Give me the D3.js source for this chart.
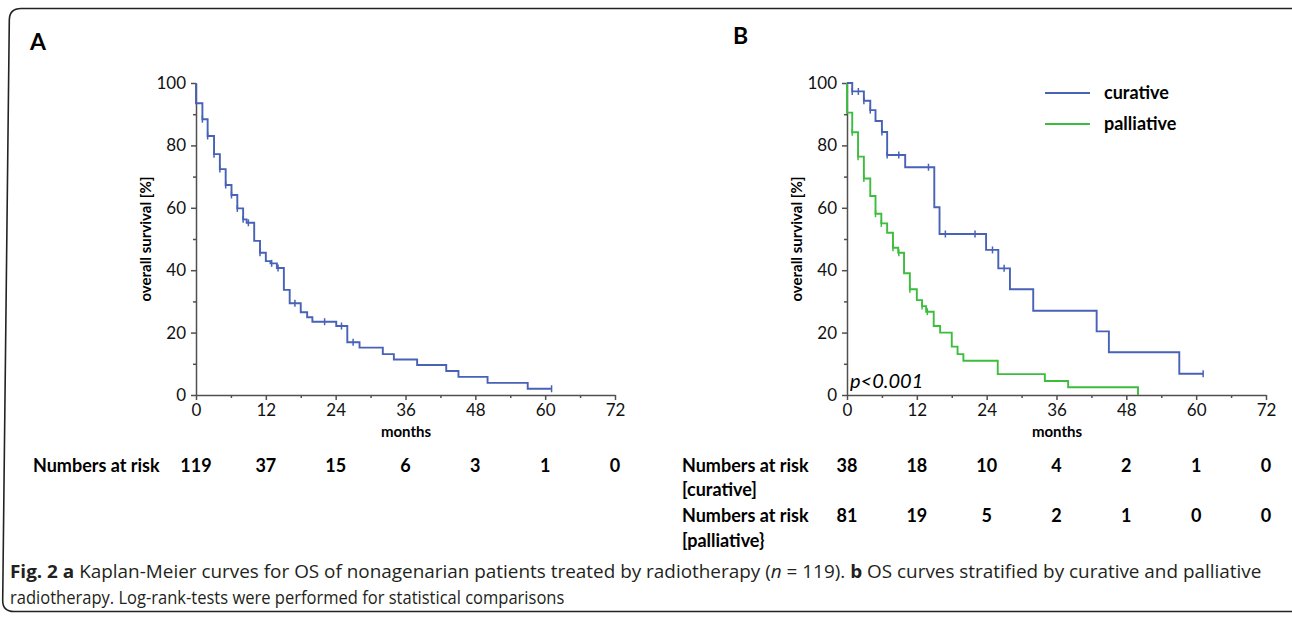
<!DOCTYPE html>
<html>
<head>
<meta charset="utf-8">
<script src="https://cdn.jsdelivr.net/npm/d3@7"></script>
<style>
  body { margin: 0; background: #fff; }
  svg { display: block; }
</style>
</head>
<body>
<div id="screen"></div>
<script>
var width = 1292;
var height = 618;

// axis ticks
var monthTicks = [0, 12, 24, 36, 48, 60, 72];
var monthMinor = [6, 18, 30, 42, 54, 66];
var survivalTicks = [0, 20, 40, 60, 80, 100];
var survivalMinor = [10, 30, 50, 70, 90];

// panel A : all patients (step start times and survival after the step)
var allTime = [0, 0, 1.1, 2.0, 3.1, 4.1, 5.1, 6.1, 7.1, 8.1, 8.7, 10.0, 11.0, 12.0, 12.8, 13.9, 15.1, 16.1, 18.0, 19.1, 20.0, 24.1, 26.0, 28.1, 32.1, 34.0, 38.0, 43.0, 45.1, 50.1, 57.0, 61.1];
var allSurv = [100, 93.5, 88.4, 83.0, 77.2, 72.4, 67.3, 64.1, 59.8, 56.3, 55.2, 49.4, 45.6, 42.9, 42.2, 40.7, 33.7, 29.4, 26.5, 24.9, 23.5, 22.1, 16.9, 15.2, 13.1, 11.4, 9.6, 7.7, 5.8, 3.9, 2.0, 2.0];
var allCensorTime = [1.1, 2.0, 3.1, 4.1, 5.1, 6.1, 7.1, 8.1, 9.0, 11.0, 13.0, 14.1, 17.0, 22.1, 25.0, 27.0, 61.1];
var allCensorSurv = [88.4, 83.0, 77.2, 72.4, 67.3, 64.1, 59.8, 56.3, 55.2, 45.6, 42.2, 40.7, 29.4, 23.5, 22.1, 16.9, 2.0];
var riskAll = [119, 37, 15, 6, 3, 1, 0];

// panel B : curative
var curTime = [0, 0.9, 2.9, 4.0, 4.9, 6.0, 6.9, 10.0, 15.0, 15.9, 23.9, 26.0, 28.0, 32.0, 42.9, 45.0, 57.1, 61.2];
var curSurv = [100, 97.3, 94.3, 91.3, 87.8, 84.3, 76.9, 73.0, 60.2, 51.6, 46.5, 40.6, 33.9, 27.0, 20.4, 13.7, 6.8, 6.8];
var curCensorTime = [0.9, 1.95, 2.9, 4.0, 6.0, 6.9, 8.9, 14.0, 16.9, 22.0, 25.0, 27.0, 61.2];
var curCensorSurv = [97.3, 97.3, 94.3, 91.3, 84.3, 76.9, 76.9, 73.0, 51.6, 51.6, 46.5, 40.6, 6.8];
var riskCurative = [38, 18, 10, 4, 2, 1, 0];

// panel B : palliative
var palTime = [0, 0, 0.9, 1.9, 2.9, 4.0, 4.9, 5.9, 6.9, 7.9, 8.8, 9.8, 10.8, 12.0, 12.9, 13.6, 14.9, 16.0, 18.0, 19.0, 20.0, 25.9, 34.0, 38.0, 50.0];
var palSurv = [100, 90.5, 84.2, 76.4, 69.4, 63.8, 58.1, 55.0, 52.0, 47.2, 45.6, 39.0, 33.9, 30.4, 28.5, 26.7, 22.1, 20.0, 15.5, 13.1, 11.0, 6.7, 4.5, 2.5, 0];
var palCensorTime = [0.9, 1.9, 2.9, 4.9, 5.9, 7.9, 8.9, 10.8, 12.9, 13.8];
var palCensorSurv = [84.2, 76.4, 69.4, 58.1, 55.0, 47.2, 45.6, 33.9, 28.5, 26.7];
var riskPalliative = [81, 19, 5, 2, 1, 0, 0];

var seriesNames = ["curative", "palliative"];
var blue = "#4762b6";
var green = "#3dbd3d";
var axisColor = "#505050";

var svg = d3.select("#screen").append("svg")
  .attr("width", width).attr("height", height)
  .style("font-family", "Lato, 'Open Sans', sans-serif");

// outer frame (left side leans a little, as in the scan)
svg.append("path")
  .attr("d", "M1300,8.5 L21,8.5 Q9.5,8.5 9.3,20 L2.7,600 Q2.5,611.5 14,611.5 L1300,611.5")
  .attr("fill", "none")
  .attr("stroke", "#222")
  .attr("stroke-width", 1.6);

var zip = function (a, b){ return a.map(function (d, i){ return [d, b[i]]; }); };

var makePanel = function (x0){
  var p = {};
  p.x = d3.scaleLinear().domain([0, 72]).range([x0, x0 + 419]);
  p.y = d3.scaleLinear().domain([0, 100]).range([395, 83]);

  var g = svg.append("g");
  // y axis
  g.append("g").attr("transform", "translate(" + x0 + ",0)")
    .call(d3.axisLeft(p.y).tickValues(survivalMinor).tickSize(3).tickFormat(""))
    .call(function (s){ s.select(".domain").remove(); });
  g.append("g").attr("transform", "translate(" + x0 + ",0)")
    .call(d3.axisLeft(p.y).tickValues(survivalTicks).tickSize(5).tickSizeOuter(0).tickPadding(5));
  // x axis
  g.append("g").attr("transform", "translate(0,395)")
    .call(d3.axisBottom(p.x).tickValues(monthMinor).tickSize(3).tickFormat(""))
    .call(function (s){ s.select(".domain").remove(); });
  g.append("g").attr("transform", "translate(0,395)")
    .call(d3.axisBottom(p.x).tickValues(monthTicks).tickSize(5).tickSizeOuter(0).tickPadding(4));

  g.selectAll(".domain, .tick line").attr("stroke", axisColor).attr("stroke-width", 1.5);
  g.selectAll(".tick text").attr("font-size", 17).attr("fill", "#111").style("font-family", "Lato, sans-serif");

  g.append("text")
    .attr("x", x0 + 210).attr("y", 437)
    .attr("text-anchor", "middle")
    .attr("font-size", 15).attr("font-weight", "bold")
    .text("months");
  g.append("text")
    .attr("transform", "translate(" + (x0 - 45) + ",239) rotate(-90)")
    .attr("text-anchor", "middle")
    .attr("font-size", 15).attr("font-weight", "bold")
    .text("overall survival [%]");
  return p;
};

var line = function (p){
  return d3.line()
    .x(function (d){ return p.x(d[0]); })
    .y(function (d){ return p.y(d[1]); })
    .curve(d3.curveStepAfter);
};

var drawCurve = function (p, times, surv, cTimes, cSurv, color){
  svg.append("path")
    .datum(zip(times, surv))
    .attr("d", line(p))
    .attr("fill", "none")
    .attr("stroke", color)
    .attr("stroke-width", 1.9);
  svg.selectAll(null).data(zip(cTimes, cSurv)).enter().append("line")
    .attr("x1", function (d){ return p.x(d[0]); })
    .attr("x2", function (d){ return p.x(d[0]); })
    .attr("y1", function (d){ return p.y(d[1]) - 3.5; })
    .attr("y2", function (d){ return p.y(d[1]) + 3.5; })
    .attr("stroke", color)
    .attr("stroke-width", 1.5);
};

var riskRow = function (p, values, y){
  svg.selectAll(null).data(values).enter().append("text")
    .attr("x", function (d, i){ return p.x(monthTicks[i]); })
    .attr("y", y)
    .attr("text-anchor", "middle")
    .attr("font-size", 18).attr("font-weight", "bold")
    .text(function (d){ return d; });
};

var label = function (x, y, txt, size){
  svg.append("text").attr("x", x).attr("y", y)
    .attr("font-size", size || 18).attr("font-weight", "bold")
    .text(txt);
};

// ---- panel A
var pa = makePanel(196);
drawCurve(pa, allTime, allSurv, allCensorTime, allCensorSurv, blue);
label(30, 50, "A", 23);
label(33, 472, "Numbers at risk");
riskRow(pa, riskAll, 472);

// ---- panel B
var pb = makePanel(847);
drawCurve(pb, palTime, palSurv, palCensorTime, palCensorSurv, green);
drawCurve(pb, curTime, curSurv, curCensorTime, curCensorSurv, blue);
label(733, 44, "B", 23);
label(682, 472, "Numbers at risk");
label(682, 496, "[curative]");
label(682, 522, "Numbers at risk");
label(682, 547, "[palliative}");
riskRow(pb, riskCurative, 472);
riskRow(pb, riskPalliative, 522);

svg.append("text")
  .attr("x", 850).attr("y", 388)
  .attr("font-size", 20).attr("font-style", "italic")
  .text("p<0.001");

// legend
var legend = svg.selectAll(".legend").data(seriesNames).enter().append("g")
  .attr("transform", function (d, i){ return "translate(1045," + (93 + i * 31) + ")"; });
legend.append("line")
  .attr("x1", 0).attr("x2", 45)
  .attr("stroke", function (d, i){ return i == 0 ? blue : green; })
  .attr("stroke-width", 2);
legend.append("text")
  .attr("x", 59).attr("y", 6)
  .attr("font-size", 18).attr("font-weight", "bold")
  .text(function (d){ return d; });

// caption
var cap1 = svg.append("text").attr("font-size", 18).attr("fill", "#231f20")
  .style("font-family", "'Open Sans', sans-serif");
cap1.append("tspan").attr("font-weight", "bold").text("Fig. 2 a");
cap1.append("tspan").text(" Kaplan-Meier curves for OS of nonagenarian patients treated by radiotherapy (");
cap1.append("tspan").attr("font-style", "italic").text("n");
cap1.append("tspan").text(" = 119). ");
cap1.append("tspan").attr("font-weight", "bold").text("b");
cap1.append("tspan").text(" OS curves stratified by curative and palliative");
var cap2 = svg.append("text").attr("font-size", 18).attr("fill", "#231f20")
  .style("font-family", "'Open Sans', sans-serif")
  .text("radiotherapy. Log-rank-tests were performed for statistical comparisons");

var fit = function (t, x, y, w){
  var len = t.node().getComputedTextLength();
  t.attr("transform", "translate(" + x + "," + y + ") scale(" + (w / len) + ",1)");
};
fit(cap1, 10, 578, 1252);
fit(cap2, 10, 604, 555);
</script>
</body>
</html>
